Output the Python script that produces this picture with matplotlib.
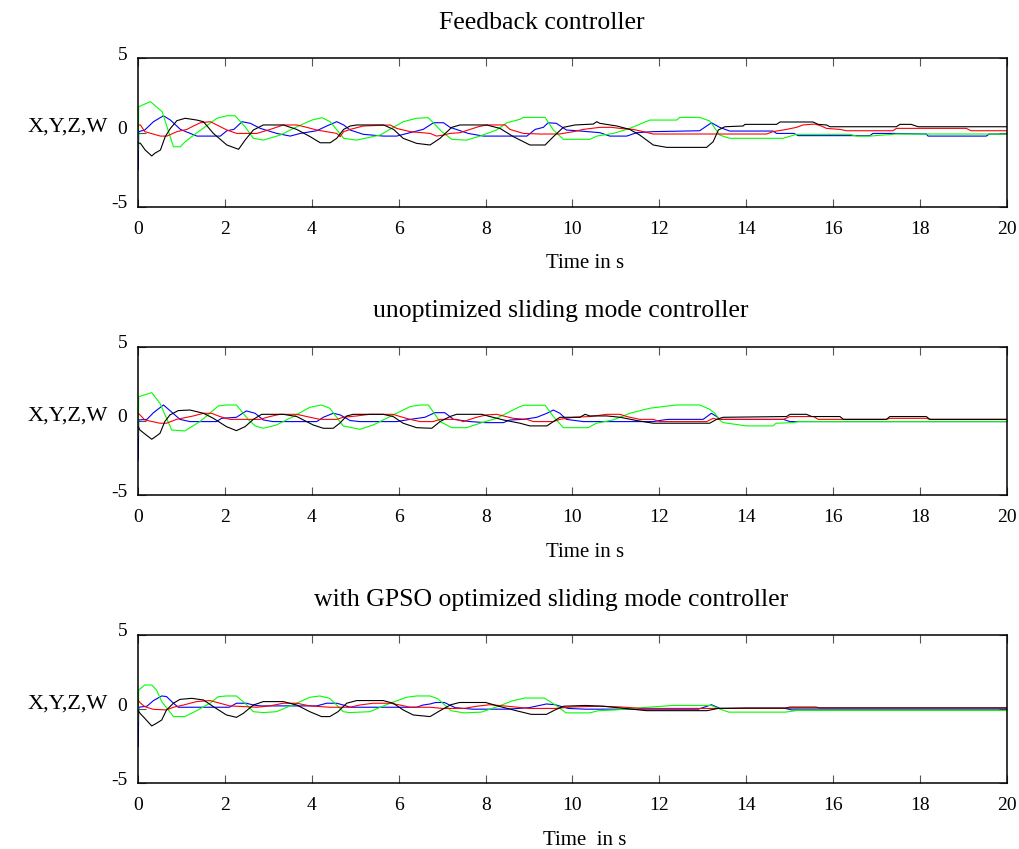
import numpy as np
import matplotlib
matplotlib.use("Agg")
import matplotlib.pyplot as plt
import matplotlib.transforms as mtransforms

# (time in s, value) breakpoints, one list per state
# panel 1: feedback controller
p1_blue = [(0, -2.5), (0.01, 0.06), (0.15, 0.17), (0.35, 0.73), (0.58, 1.13), (0.74, 0.84),
           (0.97, 0.21), (1.35, -0.24), (1.89, -0.24), (2.04, 0.12), (2.2, 0.21), (2.39, 0.73),
           (2.58, 0.62), (2.81, 0.28), (3.19, -0.06), (3.5, -0.24), (3.73, -0.06), (4.11, 0.12),
           (4.34, 0.44), (4.57, 0.73), (4.73, 0.51), (4.88, 0.17), (5.18, -0.12), (5.65, -0.24),
           (5.95, -0.24), (6.26, -0.01), (6.56, 0.21), (6.8, 0.66), (7.03, 0.66), (7.18, 0.35),
           (7.6, -0.06), (7.95, -0.24), (8.95, -0.24), (9.14, 0.21), (9.33, 0.35), (9.44, 0.66),
           (9.63, 0.62), (9.86, 0.17), (10.1, 0.12), (10.63, -0.01), (10.86, -0.24), (11.25, -0.24),
           (11.48, -0.01), (11.86, 0.06), (12.93, 0.12), (13.2, 0.66), (13.39, 0.35), (13.62, 0.10),
           (14.62, 0.10), (14.7, -0.06), (15.1, -0.06), (15.2, -0.21), (16.85, -0.21), (16.92, -0.06),
           (17.38, -0.06), (18.15, -0.10), (18.19, -0.24), (19.53, -0.24), (19.6, -0.10), (20, -0.10)]
p1_green = [(0, -1.2), (0.01, 1.74), (0.28, 2.08), (0.55, 1.40), (0.81, -0.96), (0.97, -0.96),
            (1.08, -0.62), (1.28, -0.17), (1.81, 0.96), (2.04, 1.13), (2.23, 1.13), (2.46, 0.39),
            (2.65, -0.39), (2.88, -0.51), (3.27, -0.17), (3.65, 0.39), (4.0, 0.84), (4.23, 1.0),
            (4.42, 0.73), (4.73, -0.39), (5.03, -0.51), (5.57, -0.17), (6.1, 0.73), (6.41, 0.96),
            (6.68, 1.0), (6.99, 0.06), (7.22, -0.46), (7.56, -0.51), (7.87, -0.24), (8.25, 0.17),
            (8.49, 0.66), (8.79, 0.89), (8.87, 1.02), (9.37, 1.02), (9.56, 0.17), (9.79, -0.46),
            (10.4, -0.46), (10.56, -0.24), (10.94, -0.06), (11.32, 0.28), (11.78, 0.84), (12.4, 0.84),
            (12.47, 1.02), (12.93, 1.02), (13.16, 0.78), (13.39, -0.17), (13.62, -0.39), (14.85, -0.39),
            (15.16, -0.12), (16.39, -0.12), (16.54, -0.24), (16.85, -0.24), (17.46, -0.10), (20, -0.10)]
p1_red = [(0, 0.5), (0.05, 0.51), (0.15, 0.06), (0.51, -0.24), (0.66, -0.24), (0.89, 0.06),
          (1.12, 0.21), (1.27, 0.44), (1.43, 0.66), (1.66, 0.73), (1.81, 0.51), (2.04, 0.17),
          (2.27, -0.06), (2.73, -0.06), (3.04, 0.21), (3.34, 0.51), (3.65, 0.51), (3.88, 0.35),
          (4.11, 0.17), (4.57, -0.06), (4.65, -0.28), (4.73, 0.06), (4.88, 0.21), (5.18, 0.44),
          (5.8, 0.51), (5.95, 0.28), (6.26, 0.06), (6.72, -0.06), (6.87, -0.24), (7.03, -0.17),
          (7.18, -0.06), (7.41, -0.01), (7.64, 0.21), (7.83, 0.39), (8.02, 0.51), (8.45, 0.51),
          (8.56, 0.21), (8.87, -0.06), (9.25, -0.10), (9.7, -0.10), (10.02, 0.06), (10.25, 0.21),
          (10.63, 0.35), (10.9, 0.35), (11.09, 0.28), (11.4, 0.21), (11.63, 0.06), (11.86, -0.10),
          (14.47, -0.10), (14.62, 0.06), (14.93, 0.21), (15.16, 0.35), (15.31, 0.51), (15.58, 0.57),
          (15.73, 0.44), (15.85, 0.28), (16.16, 0.21), (16.31, 0.12), (17.38, 0.12), (17.46, 0.28),
          (19.07, 0.28), (19.18, 0.12), (20, 0.12)]
p1_black = [(0, -0.7), (0.05, -0.73), (0.16, -1.18), (0.31, -1.58), (0.38, -1.40), (0.51, -1.18),
            (0.62, -0.28), (0.74, 0.28), (0.89, 0.80), (1.08, 0.96), (1.35, 0.84), (1.5, 0.73),
            (1.73, -0.06), (2.04, -0.84), (2.31, -1.13), (2.46, -0.51), (2.65, 0.17), (2.88, 0.51),
            (3.34, 0.51), (3.65, 0.21), (3.96, -0.28), (4.19, -0.69), (4.42, -0.69), (4.57, -0.39),
            (4.73, 0.21), (4.88, 0.44), (5.03, 0.51), (5.65, 0.51), (5.88, 0.21), (6.1, -0.39),
            (6.41, -0.73), (6.72, -0.84), (6.95, -0.39), (7.22, 0.35), (7.41, 0.51), (8.02, 0.51),
            (8.33, 0.28), (8.64, -0.28), (9.02, -0.84), (9.37, -0.84), (9.56, -0.28), (9.79, 0.35),
            (10.06, 0.51), (10.48, 0.57), (10.56, 0.73), (10.63, 0.62), (11.02, 0.44), (11.32, 0.21),
            (11.55, -0.17), (11.86, -0.84), (12.17, -1.0), (13.09, -1.0), (13.24, -0.62), (13.36, 0.17),
            (13.51, 0.39), (13.93, 0.44), (13.97, 0.55), (14.7, 0.55), (14.78, 0.71), (15.54, 0.71),
            (15.66, 0.55), (15.85, 0.51), (15.93, 0.39), (17.46, 0.39), (17.54, 0.55), (17.8, 0.55),
            (17.96, 0.39), (20, 0.39)]

# panel 2: unoptimized sliding mode controller
p2_blue = [(0, -2.64), (0.01, 0.06), (0.2, 0.1), (0.35, 0.55), (0.58, 1.07), (0.73, 0.69),
           (0.96, 0.1), (1.19, -0.05), (1.8, -0.05), (1.92, 0.17), (2.26, 0.24), (2.49, 0.67),
           (2.69, 0.51), (2.88, 0.06), (3.1, -0.05), (4.11, -0.05), (4.26, 0.24), (4.49, 0.51),
           (4.65, 0.4), (4.88, 0.02), (5.1, -0.05), (5.95, -0.05), (6.26, 0.1), (6.6, 0.24),
           (6.83, 0.55), (7.06, 0.55), (7.26, 0.1), (7.64, -0.05), (8.0, -0.12), (8.41, -0.12),
           (8.56, 0.06), (8.87, 0.1), (9.18, 0.24), (9.41, 0.51), (9.56, 0.73), (9.71, 0.51),
           (9.86, 0.1), (10.25, -0.05), (11.86, -0.05), (12.09, 0.06), (12.21, 0.1), (13.01, 0.1),
           (13.2, 0.51), (13.32, 0.29), (13.39, 0.1), (14.86, 0.1), (15.01, -0.05), (20, -0.05)]
p2_green = [(0, -1.0), (0.01, 1.63), (0.31, 1.90), (0.5, 1.18), (0.77, -0.62), (1.07, -0.68),
            (1.42, -0.05), (1.84, 1.0), (2.03, 1.07), (2.26, 1.07), (2.53, 0.1), (2.69, -0.34),
            (2.88, -0.5), (3.18, -0.28), (3.57, 0.29), (3.95, 0.91), (4.22, 1.07), (4.41, 0.85),
            (4.72, -0.34), (5.1, -0.57), (5.41, -0.28), (5.95, 0.51), (6.26, 0.96), (6.49, 1.07),
            (6.68, 1.07), (6.95, -0.05), (7.22, -0.46), (7.56, -0.46), (7.87, -0.16), (8.25, 0.17),
            (8.48, 0.51), (8.79, 0.96), (8.87, 1.05), (9.37, 1.05), (9.56, 0.29), (9.79, -0.46),
            (10.36, -0.46), (10.55, -0.16), (10.94, 0.06), (11.32, 0.51), (11.78, 0.85), (12.39, 1.07),
            (12.93, 1.07), (13.16, 0.78), (13.28, 0.51), (13.40, 0.02), (13.47, -0.12), (14.01, -0.34),
            (14.62, -0.34), (14.69, -0.16), (15.08, -0.12), (15.2, -0.05), (20, -0.05)]
p2_red = [(0, 0.5), (0.04, 0.40), (0.15, 0.06), (0.5, -0.16), (0.65, -0.16), (0.88, 0.1),
          (1.27, 0.33), (1.5, 0.51), (1.69, 0.51), (1.88, 0.29), (2.11, 0.1), (2.8, 0.1),
          (3.03, 0.29), (3.26, 0.44), (3.65, 0.44), (3.88, 0.29), (4.18, 0.1), (4.57, 0.1),
          (4.72, 0.24), (5.03, 0.33), (5.33, 0.44), (5.87, 0.44), (6.03, 0.29), (6.26, 0.1),
          (6.49, -0.05), (6.79, -0.05), (6.95, 0.1), (7.33, 0.1), (7.49, -0.05), (7.64, 0.1),
          (7.79, 0.24), (8.02, 0.4), (8.25, 0.44), (8.41, 0.33), (8.64, 0.17), (8.95, 0.1),
          (9.1, -0.05), (9.56, -0.05), (9.71, 0.1), (10.02, 0.24), (10.4, 0.29), (10.79, 0.44),
          (11.09, 0.44), (11.25, 0.29), (11.55, 0.1), (11.86, 0.1), (12.01, -0.05), (13.09, -0.05),
          (13.24, 0.17), (13.32, 0.1), (14.86, 0.1), (15.01, 0.29), (15.55, 0.29), (15.66, 0.1),
          (17.23, 0.1), (17.31, 0.17), (18.15, 0.17), (18.23, 0.1), (20, 0.1)]
p2_black = [(0, -0.4), (0.04, -0.62), (0.15, -0.88), (0.31, -1.24), (0.38, -1.1), (0.5, -0.84),
            (0.61, -0.05), (0.73, 0.4), (0.92, 0.69), (1.19, 0.73), (1.5, 0.51), (1.73, 0.17),
            (2.03, -0.39), (2.26, -0.66), (2.46, -0.39), (2.65, 0.1), (2.84, 0.44), (3.34, 0.44),
            (3.65, 0.29), (4.03, -0.28), (4.26, -0.5), (4.49, -0.5), (4.64, -0.16), (4.8, 0.33),
            (4.95, 0.44), (5.64, 0.44), (5.87, 0.29), (6.1, -0.16), (6.41, -0.46), (6.76, -0.5),
            (6.95, -0.05), (7.18, 0.29), (7.33, 0.44), (7.91, 0.44), (8.1, 0.29), (8.41, 0.06),
            (8.79, -0.16), (9.02, -0.34), (9.41, -0.34), (9.56, -0.05), (9.71, 0.24), (10.17, 0.24),
            (10.29, 0.44), (10.4, 0.33), (10.79, 0.33), (11.1, 0.24), (11.48, 0.02), (11.86, -0.16),
            (13.16, -0.16), (13.32, 0.1), (13.47, 0.24), (14.93, 0.29), (15.01, 0.44), (15.39, 0.44),
            (15.51, 0.29), (16.16, 0.29), (16.24, 0.1), (17.23, 0.1), (17.31, 0.29), (18.15, 0.29),
            (18.23, 0.1), (20, 0.1)]

# panel 3: GPSO optimized sliding mode controller
p3_blue = [(0, -2.53), (0.01, 0.13), (0.2, 0.2), (0.35, 0.58), (0.54, 0.89), (0.65, 0.85),
           (0.81, 0.4), (0.92, 0.13), (2.1, 0.13), (2.26, 0.4), (2.49, 0.4), (2.65, 0.28),
           (2.8, 0.22), (4.11, 0.22), (4.34, 0.4), (4.57, 0.4), (4.72, 0.28), (4.88, 0.13),
           (6.41, 0.13), (6.56, 0.28), (6.72, 0.35), (6.85, 0.45), (7.05, 0.45), (7.3, 0.1),
           (7.7, 0.0), (8.5, 0.0), (9.0, 0.1), (9.4, 0.35), (9.6, 0.3), (9.9, 0.05), (10.3, 0.0),
           (12.9, 0.0), (13.2, 0.3), (13.4, 0.05), (14.9, 0.05), (15.05, -0.05), (20, -0.05)]
p3_green = [(0, -0.8), (0.01, 1.29), (0.15, 1.63), (0.31, 1.63), (0.42, 1.29), (0.54, 0.51),
            (0.69, -0.05), (0.81, -0.5), (1.07, -0.5), (1.3, -0.17), (1.65, 0.4), (1.84, 0.84),
            (2.03, 0.89), (2.26, 0.89), (2.46, 0.4), (2.65, -0.17), (2.88, -0.23), (3.18, -0.17),
            (3.65, 0.4), (3.95, 0.8), (4.18, 0.89), (4.41, 0.73), (4.72, -0.17), (4.87, -0.23),
            (5.33, -0.17), (5.8, 0.4), (6.18, 0.8), (6.41, 0.89), (6.72, 0.89), (6.9, 0.7),
            (7.2, -0.1), (7.5, -0.25), (7.9, -0.2), (8.3, 0.2), (8.6, 0.55), (8.9, 0.75),
            (9.35, 0.75), (9.6, 0.3), (9.85, -0.25), (10.4, -0.25), (10.6, -0.1), (11.0, -0.05),
            (11.6, 0.1), (12.3, 0.25), (13.2, 0.25), (13.4, 0.0), (13.6, -0.2), (14.9, -0.2),
            (15.2, -0.08), (20, -0.08)]
p3_red = [(0, 0.6), (0.04, 0.44), (0.15, 0.17), (0.35, -0.01), (0.65, -0.05), (0.81, 0.13),
          (1.04, 0.28), (1.34, 0.51), (1.65, 0.58), (1.88, 0.4), (2.11, 0.22), (2.73, 0.13),
          (3.03, 0.22), (3.34, 0.4), (3.65, 0.4), (3.95, 0.22), (4.41, 0.13), (4.87, 0.13),
          (5.1, 0.28), (5.41, 0.4), (5.8, 0.4), (6.03, 0.28), (6.26, 0.13), (6.72, 0.13),
          (7.0, 0.05), (7.5, 0.05), (7.8, 0.2), (8.1, 0.3), (8.5, 0.2), (9.0, 0.05), (9.6, 0.05),
          (10.0, 0.15), (10.6, 0.2), (11.1, 0.15), (11.6, 0.05), (14.9, 0.05), (15.0, 0.15),
          (15.6, 0.15), (15.7, 0.08), (20, 0.08)]
p3_black = [(0, -0.1), (0.04, -0.28), (0.15, -0.62), (0.31, -1.13), (0.42, -0.95), (0.54, -0.73),
            (0.65, -0.05), (0.81, 0.4), (0.96, 0.66), (1.23, 0.73), (1.5, 0.62), (1.73, 0.17),
            (2.03, -0.39), (2.26, -0.55), (2.42, -0.28), (2.65, 0.28), (2.88, 0.51), (3.34, 0.51),
            (3.65, 0.28), (3.95, -0.17), (4.22, -0.5), (4.41, -0.5), (4.6, -0.17), (4.8, 0.4),
            (5.03, 0.58), (5.64, 0.58), (5.87, 0.4), (6.1, -0.05), (6.33, -0.39), (6.72, -0.5),
            (6.95, -0.1), (7.2, 0.3), (7.4, 0.45), (8.0, 0.45), (8.3, 0.2), (8.7, -0.1),
            (9.05, -0.35), (9.4, -0.35), (9.6, -0.05), (9.8, 0.2), (10.3, 0.25), (10.7, 0.2),
            (11.2, 0.05), (11.7, -0.1), (13.1, -0.1), (13.35, 0.05), (14.0, 0.08), (20, 0.08)]

titles = ["Feedback controller", "unoptimized sliding mode controller",
          "with GPSO optimized sliding mode controller"]
xlabels = ["Time in s", "Time in s", "Time  in s"]
ylabel = "X,Y,Z,W"
xticks = [0, 2, 4, 6, 8, 10, 12, 14, 16, 18, 20]
yticks = [-5, 0, 5]

panels = [
    [p1_blue, p1_green, p1_red, p1_black],
    [p2_blue, p2_green, p2_red, p2_black],
    [p3_blue, p3_green, p3_red, p3_black],
]
colors = ["#0000ff", "#00ff00", "#ff0000", "#000000"]

plt.rcParams["font.family"] = ["Liberation Serif", "DejaVu Serif"]
plt.rcParams["axes.unicode_minus"] = False

fig = plt.figure(figsize=(10.19, 8.49), dpi=100)
bottoms = [0.7565, 0.4169, 0.0773]
title_x = [0.465, 0.487, 0.475]   # titles sit a little left of centre in the original

# y tick labels sit a few pixels above their ticks in the original
lift = mtransforms.ScaledTranslation(0, 0.05, fig.dpi_scale_trans)

for i in range(3):
    ax = fig.add_axes([0.1357, bottoms[i], 0.8522, 0.1748])
    for series, c in zip(panels[i], colors):
        t, v = np.array(series).T
        ax.plot(t, v, color=c, lw=0.8)
    ax.set_xlim(0, 20)
    ax.set_ylim(-5, 5)
    ax.set_xticks(xticks)
    ax.set_yticks(yticks)
    ax.tick_params(direction="in", length=6, width=0.8, color="#555555",
                   top=True, right=True, labelsize=14)
    ax.tick_params(axis="x", pad=10)
    ax.tick_params(axis="y", pad=8)
    for lab in ax.get_yticklabels():
        lab.set_transform(lab.get_transform() + lift)
    for s in ax.spines.values():
        s.set_linewidth(1.1)
    ax.set_title(titles[i], fontsize=18.5, pad=21, x=title_x[i])
    ax.set_xlabel(xlabels[i], fontsize=15)
    ax.xaxis.set_label_coords(0.514, -0.32)
    ax.set_ylabel(ylabel, fontsize=16, rotation=0, ha="right", va="center")
    ax.yaxis.set_label_coords(-0.035, 0.535)

fig.savefig("out.png", dpi=100)
